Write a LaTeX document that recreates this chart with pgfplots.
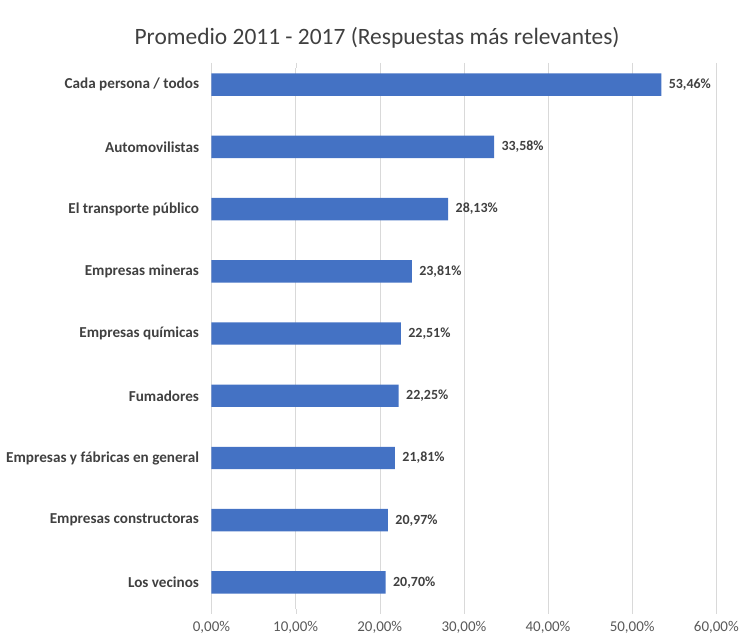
\documentclass[border=0pt]{standalone}
\usepackage{pgfplots}
\pgfplotsset{compat=1.18}
\usepackage{fontspec}
\setmainfont{Carlito}
\definecolor{barblue}{HTML}{4472C4}
\definecolor{txtgray}{HTML}{404040}
\definecolor{tickgray}{HTML}{595959}
\begin{document}
\begin{tikzpicture}
\begin{axis}[
  scale only axis,
  width=506bp, height=542bp,
  xbar, bar width=0.36,
  xmin=0, xmax=60, ymin=-0.42, ymax=8.27,
  ytick={0,...,8},
  yticklabels={Los vecinos, Empresas constructoras, Empresas y fábricas en general, Fumadores, Empresas químicas, Empresas mineras, El transporte público, Automovilistas, Cada persona / todos},
  yticklabel style={font=\fontsize{15.2bp}{17bp}\selectfont\bfseries, text=txtgray, xshift=-4bp},
  xtick={0,10,...,60},
  /pgf/number format/assume math mode=true,
  xticklabel={\pgfmathprintnumber[fixed,fixed zerofill,precision=2,use comma]{\tick}\%},
  xticklabel style={font=\fontsize{15bp}{17bp}\selectfont, text=tickgray, yshift=-4bp},
  xmajorgrids, grid style={draw=black!15},
  axis line style={draw=none},
  tick align=outside,
  xtick style={draw=black!15},
  ytick style={draw=none},
  major tick length=5bp,
  nodes near coords={\pgfmathprintnumber[fixed,fixed zerofill,precision=2,use comma]{\pgfplotspointmeta}\%},
  point meta=x,
  nodes near coords style={font=\fontsize{14bp}{16bp}\selectfont\bfseries, text=txtgray, anchor=west, xshift=4bp},
  title={Promedio 2011 - 2017 (Respuestas más relevantes)},
  title style={font=\fontsize{23.5bp}{26bp}\selectfont, text=txtgray, at={(rel axis cs:0.328,1)}, anchor=south, yshift=10bp},
]
\addplot[fill=barblue, draw=none] coordinates {(20.70,0) (20.97,1) (21.81,2) (22.25,3) (22.51,4) (23.81,5) (28.13,6) (33.58,7) (53.46,8)};
\end{axis}
\path ([xshift=-212bp,yshift=-33bp]current axis.south west) rectangle ([xshift=24bp,yshift=68bp]current axis.north east);
\end{tikzpicture}
\end{document}
